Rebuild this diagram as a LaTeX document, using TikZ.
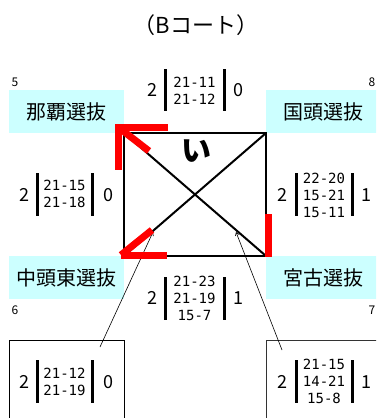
\documentclass[tikz,border=0pt]{standalone}
\usepackage{fontspec}
\setmainfont{Noto Sans CJK JP}
\newfontfamily\scorefont{DejaVu Sans Mono}
\usetikzlibrary{arrows.meta}
\definecolor{teamcyan}{RGB}{204,255,255}
\begin{document}
\begin{tikzpicture}[x=1pt,y=-1pt,
    team/.style={fill=teamcyan,minimum width=115pt,minimum height=43pt,inner sep=0pt,font=\fontsize{20}{24}\selectfont},
    seed/.style={inner sep=0pt,font=\fontsize{12}{14}\selectfont},
    scores/.style={inner sep=0pt,align=center,font=\scorefont\fontsize{14}{17}\selectfont},
    bigdigit/.style={inner sep=0pt,font=\fontsize{18}{20}\selectfont},
    scorebar/.style={line width=3pt},
    court/.style={line width=2pt},
    redmark/.style={draw=red,line width=7pt},
    callout/.style={line width=0.6pt,-{Straight Barb[length=3pt,width=4pt]}},
    resbox/.style={draw,line width=1pt,minimum width=115pt,minimum height=82pt,inner sep=0pt}]
                        \useasboundingbox (0,0) rectangle (376,418);
                        \clip (0,0) rectangle (376,418);
                        \node[font=\fontsize{22}{26}\selectfont] (title) at (196,25) {（Bコート）};

                        \node[team] (naha) at (66.5,111.5) {那覇選抜};
                        \node[team] (kunigami) at (323.5,111.5) {国頭選抜};
                        \node[team] (nakagami) at (66.5,277.5) {中頭東選抜};
                        \node[team] (miyako) at (323.5,277.5) {宮古選抜};
                        \node[seed] (s5) at (15,82) {5};
                        \node[seed] (s8) at (372,82) {8};
                        \node[seed] (s6) at (15,310) {6};
                        \node[seed] (s7) at (372,310) {7};

                        \draw[court] (naha.south east) -- (kunigami.south west) -- (miyako.north west) -- (nakagami.north east) -- cycle;
                        \draw[court] (naha.south east) -- (miyako.north west);
                        \draw[court] (kunigami.south west) -- (nakagami.north east);
                        \node[font=\fontsize{30}{30}\selectfont\bfseries] (i) at (196,151) {い};

                        \node[scores] (top) at (194.5,90.5) {21-11\\21-12};
                        \node[bigdigit] (topl) at (152,90) {2};
                        \node[bigdigit] (topr) at (238,90) {0};
                        \draw[scorebar] (165,69) -- (165,111);
                        \draw[scorebar] (224,69) -- (224,111);

                        \node[scores] (left) at (64.5,194) {21-15\\21-18};
                        \node[bigdigit] (leftl) at (24,195) {2};
                        \node[bigdigit] (leftr) at (108,195) {0};
                        \draw[scorebar] (37,173) -- (37,216);
                        \draw[scorebar] (92,173) -- (92,216);

                        \node[scores] (right) at (324,195) {22-20\\15-21\\15-11};
                        \node[bigdigit] (rightl) at (282,195) {2};
                        \node[bigdigit] (rightr) at (366,195) {1};
                        \draw[scorebar] (296,173) -- (296,216);
                        \draw[scorebar] (352,173) -- (352,216);

                        \node[scores] (bottom) at (194.5,298.5) {21-23\\21-19\\15-7};
                        \node[bigdigit] (bottoml) at (152,298) {2};
                        \node[bigdigit] (bottomr) at (238,298) {1};
                        \draw[scorebar] (165,277) -- (165,320);
                        \draw[scorebar] (224,277) -- (224,320);

                        \node[resbox] (boxl) at (66.5,381) {};
                        \node[scores] (boxlsc) at (64.5,381.5) {21-12\\21-19};
                        \node[bigdigit] (boxll) at (24,382) {2};
                        \node[bigdigit] (boxlr) at (108,382) {0};
                        \draw[scorebar] (37,360) -- (37,403);
                        \draw[scorebar] (92,360) -- (92,403);

                        \node[resbox,draw=black!80] (boxr) at (323.5,381) {};
                        \node[scores] (boxrsc) at (324,381) {21-15\\14-21\\15-8};
                        \node[bigdigit] (boxrl) at (282,382) {2};
                        \node[bigdigit] (boxrr) at (366,382) {1};
                        \draw[scorebar] (296,360) -- (296,403);
                        \draw[scorebar] (352,360) -- (352,403);

                        \coordinate (footl) at (100,347);
                        \coordinate (tipl) at (153,232);
                        \coordinate (footr) at (282,350);
                        \coordinate (tipr) at (236,232);
                        \draw[callout] (footl) -- (tipl);
                        \draw[callout] (footr) -- (tipr);

                        \draw[redmark] (168,127) -- (118,127) -- (118,170);
                        \draw[redmark] (118,127) -- (149,151);
                        \draw[redmark] (121,255) -- (167,255);
                        \draw[redmark] (121,255) -- (152,230);
                        \draw[redmark] (268,214) -- (268,257);
                    \end{tikzpicture}
\end{document}
